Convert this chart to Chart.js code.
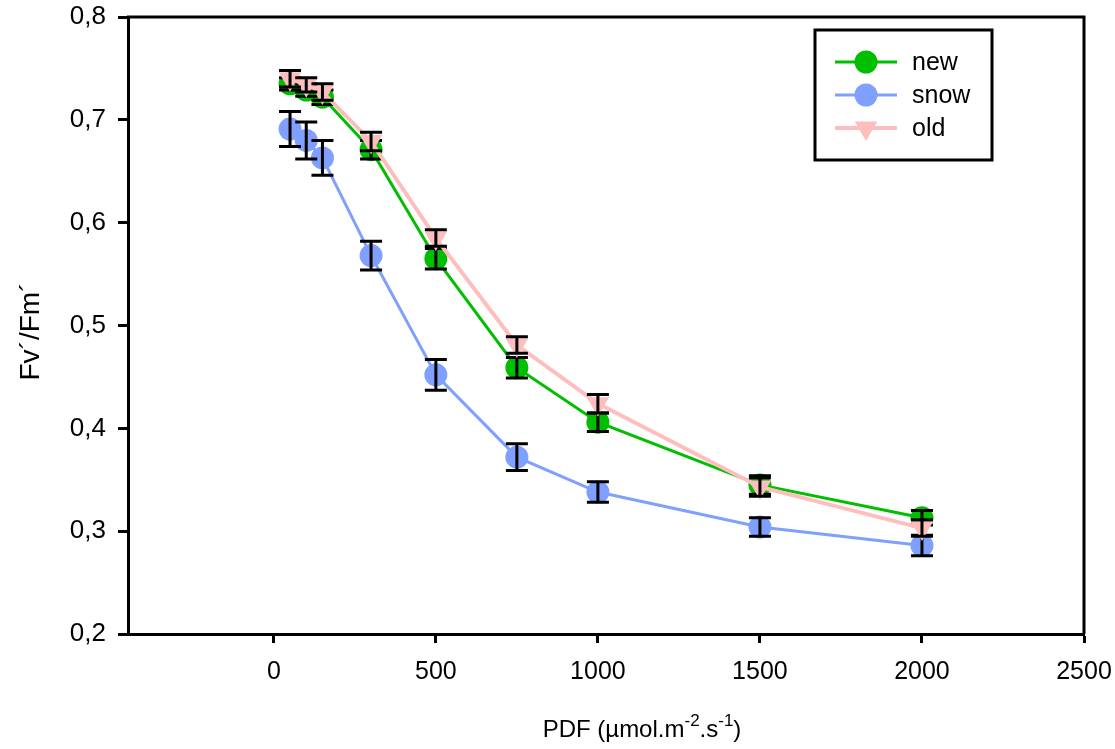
<!DOCTYPE html>
<html><head><meta charset="utf-8">
<script src="https://cdn.jsdelivr.net/npm/chart.js@4/dist/chart.umd.min.js"></script>
<style>html,body{margin:0;padding:0;background:#fff}#wrap{width:1115px;height:749px}</style>
</head><body><div id="wrap"><canvas id="c" width="1115" height="749"></canvas></div>
<script>
// ---- data ----
const pdf = [50, 100, 150, 300, 500, 750, 1000, 1500, 2000];
const newVals  = [0.735, 0.729, 0.722, 0.671, 0.565, 0.459, 0.406, 0.345, 0.313];
const newErr   = [0.006, 0.006, 0.007, 0.009, 0.010, 0.010, 0.009, 0.009, 0.007];
const snowVals = [0.691, 0.680, 0.663, 0.568, 0.452, 0.372, 0.338, 0.304, 0.286];
const snowErr  = [0.017, 0.018, 0.017, 0.014, 0.015, 0.013, 0.010, 0.009, 0.010];
const oldVals  = [0.740, 0.734, 0.727, 0.679, 0.585, 0.481, 0.424, 0.343, 0.303];
const oldErr   = [0.008, 0.007, 0.008, 0.009, 0.008, 0.008, 0.009, 0.009, 0.008];
const xTicks = [0, 500, 1000, 1500, 2000, 2500];
const yTicks = [0.2, 0.3, 0.4, 0.5, 0.6, 0.7, 0.8];
const legendOrder = ['new', 'snow', 'old'];
const xTitleParts = [['PDF (µmol.m', false], ['-2', true], ['.s', false], ['-1', true], [')', false]];
const yTitle = 'Fv´/Fm´';

const GREEN = 'rgb(0,190,0)', BLUE = 'rgb(128,160,255)', PINK = 'rgb(255,190,190)';
const FONT = '"Liberation Sans", Arial, sans-serif';

function pts(vals) { return pdf.map((x, i) => ({x: x, y: vals[i]})); }

const errorBars = {
  id: 'errorBars',
  afterDatasetDraw(chart, args) {
    const ds = chart.data.datasets[args.index];
    if (!ds.errors) return;
    const xs = chart.scales.x, ys = chart.scales.y, ctx = chart.ctx;
    ctx.save();
    ctx.strokeStyle = '#000';
    ctx.lineWidth = 3;
    ds.data.forEach((p, i) => {
      const e = ds.errors[i];
      const px = xs.getPixelForValue(p.x);
      const top = ys.getPixelForValue(p.y + e), bot = ys.getPixelForValue(p.y - e);
      ctx.beginPath();
      ctx.moveTo(px, top); ctx.lineTo(px, bot);
      ctx.moveTo(px - 11, top); ctx.lineTo(px + 11, top);
      ctx.moveTo(px - 11, bot); ctx.lineTo(px + 11, bot);
      ctx.stroke();
    });
    ctx.restore();
  }
};

const frameAndText = {
  id: 'frameAndText',
  afterDraw(chart) {
    const ctx = chart.ctx, a = chart.chartArea;
    ctx.save();
    ctx.strokeStyle = '#000';
    ctx.lineWidth = 3;
    ctx.beginPath();
    ctx.moveTo(a.left - 1, a.top); ctx.lineTo(a.right, a.top); ctx.lineTo(a.right, a.bottom);
    ctx.stroke();

    // legend box
    const bx = a.right - 269, by = a.top + 13, bw = 177, bh = 130;
    ctx.lineWidth = 3;
    ctx.strokeRect(bx, by, bw, bh);
    legendOrder.forEach((name, k) => {
      const ds = chart.data.datasets.find(d => d.label === name);
      const ry = by + 32 + k * 33;
      ctx.strokeStyle = ds.borderColor;
      ctx.lineWidth = ds.borderWidth;
      ctx.beginPath(); ctx.moveTo(bx + 20, ry); ctx.lineTo(bx + 82, ry); ctx.stroke();
      ctx.fillStyle = ds.pointBackgroundColor;
      ctx.strokeStyle = ds.pointBackgroundColor;
      Chart.helpers.drawPoint(ctx, {pointStyle: ds.pointStyle, rotation: ds.pointRotation || 0,
        radius: ds.pointRadius, borderWidth: 0}, bx + 51, ry);
      ctx.fillStyle = '#000';
      ctx.font = '25px ' + FONT;
      ctx.textBaseline = 'middle';
      ctx.textAlign = 'left';
      ctx.fillText(name, bx + 97, ry + 1);
    });

    // x title with superscripts
    ctx.fillStyle = '#000';
    ctx.textBaseline = 'alphabetic';
    ctx.textAlign = 'left';
    let total = 0;
    const widths = xTitleParts.map(([t, sup]) => {
      ctx.font = (sup ? '17px ' : '24px ') + FONT;
      const w = ctx.measureText(t).width; total += w; return w;
    });
    let x = 642 - total / 2;
    const base = 737;
    xTitleParts.forEach(([t, sup], i) => {
      ctx.font = (sup ? '17px ' : '24px ') + FONT;
      ctx.fillText(t, x, sup ? base - 11 : base);
      x += widths[i];
    });

    // y title
    ctx.save();
    ctx.translate(31, (a.top + a.bottom) / 2 + 6);
    ctx.rotate(-Math.PI / 2);
    ctx.font = '28px ' + FONT;
    ctx.textAlign = 'center';
    ctx.textBaseline = 'middle';
    ctx.fillText(yTitle, 0, 0);
    ctx.restore();
    ctx.restore();
  }
};

new Chart(document.getElementById('c'), {
  type: 'scatter',
  data: {
    datasets: [
      {label: 'old', data: pts(oldVals), errors: oldErr, showLine: true,
       borderColor: PINK, backgroundColor: PINK, pointBackgroundColor: PINK, pointBorderColor: PINK,
       borderWidth: 4, pointStyle: 'triangle', pointRotation: 180, pointRadius: 13, pointBorderWidth: 0, tension: 0},
      {label: 'new', data: pts(newVals), errors: newErr, showLine: true,
       borderColor: GREEN, backgroundColor: GREEN, pointBackgroundColor: GREEN, pointBorderColor: GREEN,
       borderWidth: 3, pointStyle: 'circle', pointRadius: 11.5, pointBorderWidth: 0, tension: 0},
      {label: 'snow', data: pts(snowVals), errors: snowErr, showLine: true,
       borderColor: BLUE, backgroundColor: BLUE, pointBackgroundColor: BLUE, pointBorderColor: BLUE,
       borderWidth: 3, pointStyle: 'circle', pointRadius: 11.5, pointBorderWidth: 0, tension: 0}
    ]
  },
  options: {
    responsive: false, animation: false, devicePixelRatio: 1,
    layout: {padding: {top: 17, right: 31, left: 0, bottom: 0}},
    plugins: {legend: {display: false}, tooltip: {enabled: false}},
    scales: {
      x: {
        type: 'linear', min: -450, max: 2500,
        afterBuildTicks: s => { s.ticks = xTicks.map(v => ({value: v})); },
        afterFit: s => { s.height = 115; s.paddingLeft = 0; s.paddingRight = 0; },
        grid: {display: true, drawOnChartArea: false, drawTicks: true, tickLength: 9, tickWidth: 3, tickColor: '#000'},
        border: {display: true, color: '#000', width: 3},
        ticks: {color: '#000', font: {family: FONT, size: 25}, padding: 14, maxRotation: 0, autoSkip: false,
                callback: v => String(v)}
      },
      y: {
        type: 'linear', min: 0.2, max: 0.8,
        afterBuildTicks: s => { s.ticks = yTicks.map(v => ({value: v})); },
        afterFit: s => { s.width = 128; s.paddingTop = 0; s.paddingBottom = 0; },
        grid: {display: true, drawOnChartArea: false, drawTicks: true, tickLength: 10, tickWidth: 3, tickColor: '#000'},
        border: {display: true, color: '#000', width: 3},
        ticks: {color: '#000', font: {family: FONT, size: 26}, padding: 12,
                callback: v => v.toFixed(1).replace('.', ',')}
      }
    }
  },
  plugins: [errorBars, frameAndText]
});
</script>
</body></html>
